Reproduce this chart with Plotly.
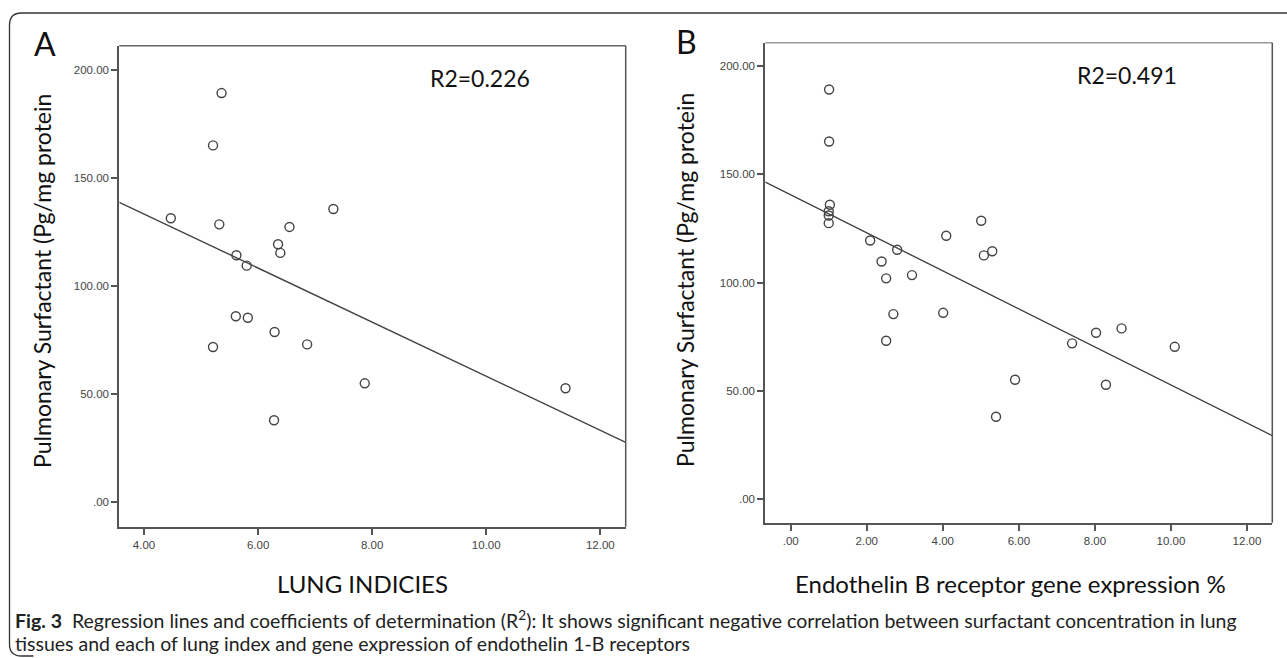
import numpy as np
import plotly.graph_objects as go

# ---------------- data ----------------
lung_index = [5.36, 5.21, 4.47, 5.32, 7.32, 6.55, 6.35, 6.39, 5.62, 5.80,
              5.61, 5.82, 6.29, 5.21, 6.86, 7.87, 6.28, 11.39]
surfactant_a = [189.2, 165.0, 131.3, 128.5, 135.6, 127.3, 119.3, 115.3, 114.2, 109.4,
                86.0, 85.3, 78.7, 71.8, 73.0, 55.0, 37.9, 52.7]

etb_expression = [1.01, 1.01, 1.03, 1.00, 1.00, 1.00, 2.09, 2.39, 2.51, 2.80,
                  3.19, 4.09, 5.01, 5.08, 5.30, 2.70, 4.01, 2.51, 5.90, 5.40,
                  7.40, 8.03, 8.70, 8.29, 10.10]
surfactant_b = [189.2, 165.2, 136.0, 133.0, 131.0, 127.5, 119.5, 109.8, 102.0, 115.2,
                103.5, 121.7, 128.6, 112.6, 114.5, 85.5, 86.1, 73.2, 55.2, 38.1,
                72.0, 76.9, 78.9, 52.9, 70.4]

# fitted regression lines (intercept, slope)
fit_a = (183.3, -12.50)
fit_b = (140.6, -8.78)

r2_labels = ["R2=0.226", "R2=0.491"]
panel_letters = ["A", "B"]

y_ticks = [0, 50, 100, 150, 200]
y_tick_text = [".00", "50.00", "100.00", "150.00", "200.00"]
xa_ticks = [4, 6, 8, 10, 12]
xa_tick_text = ["4.00", "6.00", "8.00", "10.00", "12.00"]
xb_ticks = [0, 2, 4, 6, 8, 10, 12]
xb_tick_text = [".00", "2.00", "4.00", "6.00", "8.00", "10.00", "12.00"]

y_title = "Pulmonary Surfactant (Pg/mg protein"
x_title_a = "LUNG INDICIES"
x_title_b = "Endothelin B receptor gene expression %"
caption_1 = ("<b>Fig. 3</b>  Regression lines and coefficients of determination (R<sup>2</sup>): "
             "It shows significant negative correlation between surfactant concentration in lung")
caption_2 = "tissues and each of lung index and gene expression of endothelin 1-B receptors"

# ---------------- layout constants ----------------
W, H = 1287, 658
xrange_a = [3.567, 12.445]
xrange_b = [-0.668, 12.665]
yrange_a = [-11.3, 211.1]
yrange_b = [-10.8, 210.8]

dark = "#444444"
font_main = "Lato"

fig = go.Figure()

marker = dict(symbol="circle-open", size=9, color=dark, line=dict(width=1.4, color=dark))

fig.add_trace(go.Scatter(x=lung_index, y=surfactant_a, mode="markers", marker=marker,
                         xaxis="x", yaxis="y", showlegend=False, hoverinfo="x+y"))
xl = np.array(xrange_a)
fig.add_trace(go.Scatter(x=xl, y=fit_a[0] + fit_a[1] * xl, mode="lines",
                         line=dict(color=dark, width=1.4), xaxis="x", yaxis="y",
                         showlegend=False, hoverinfo="skip"))

fig.add_trace(go.Scatter(x=etb_expression, y=surfactant_b, mode="markers", marker=marker,
                         xaxis="x2", yaxis="y2", showlegend=False, hoverinfo="x+y"))
xl2 = np.array(xrange_b)
fig.add_trace(go.Scatter(x=xl2, y=fit_b[0] + fit_b[1] * xl2, mode="lines",
                         line=dict(color=dark, width=1.4), xaxis="x2", yaxis="y2",
                         showlegend=False, hoverinfo="skip"))

tickfont = dict(family="Liberation Sans, Arial", size=11.5, color="#444444")
axis_common = dict(showgrid=False, zeroline=False, showline=True, linecolor="#555555",
                   linewidth=2, ticks="outside", ticklen=6, tickwidth=1.5,
                   tickcolor="#555555", tickfont=tickfont, fixedrange=True)

dom_xa = [119.3 / W, 625.7 / W]
dom_ya = [1 - 526.7 / H, 1 - 45.7 / H]
dom_xb = [765.3 / W, 1272.3 / W]
dom_yb = [1 - 522.7 / H, 1 - 42.7 / H]

fig.update_layout(
    width=W, height=H, autosize=False,
    margin=dict(l=0, r=0, t=0, b=0),
    paper_bgcolor="white", plot_bgcolor="white",
    xaxis=dict(domain=dom_xa, range=xrange_a, tickvals=xa_ticks, ticktext=xa_tick_text,
               anchor="y", **axis_common),
    yaxis=dict(domain=dom_ya, range=yrange_a, tickvals=y_ticks, ticktext=y_tick_text,
               anchor="x", **axis_common),
    xaxis2=dict(domain=dom_xb, range=xrange_b, tickvals=xb_ticks, ticktext=xb_tick_text,
                anchor="y2", **axis_common),
    yaxis2=dict(domain=dom_yb, range=yrange_b, tickvals=y_ticks, ticktext=y_tick_text,
                anchor="x2", **axis_common),
)

shapes = []
# top and right borders of both plot boxes
for xr, yr, topc in (("x domain", "y domain", "#666666"), ("x2 domain", "y2 domain", "#999999")):
    shapes.append(dict(type="line", xref=xr, yref=yr, x0=0, x1=1, y0=1, y1=1,
                       line=dict(color=topc, width=1.5)))
    shapes.append(dict(type="line", xref=xr, yref=yr, x0=1, x1=1, y0=0, y1=1,
                       line=dict(color="#555555", width=1.5)))

# outer rounded frame of the figure panel
fx = 9.5 / W
ft = 1 - 13 / H
fb = 1 - 656 / H
rx, ry = 12 / W, 12 / H
path = (f"M 1.0,{ft} L {fx + rx},{ft} Q {fx},{ft} {fx},{ft - ry} "
        f"L {fx},{fb + ry} Q {fx},{fb} {fx + rx},{fb} L {fx + 2 * rx},{fb}")
shapes.append(dict(type="path", xref="paper", yref="paper", path=path,
                   line=dict(color="#333333", width=1.3)))
fig.update_layout(shapes=shapes)

ann = []
# panel letters
ann.append(dict(text=panel_letters[0], x=45 / W, y=1 - 43 / H, xref="paper", yref="paper",
                showarrow=False, font=dict(family=font_main, size=32, color="#111111"),
                xanchor="center", yanchor="middle"))
ann.append(dict(text=panel_letters[1], x=686 / W, y=1 - 42 / H, xref="paper", yref="paper",
                showarrow=False, font=dict(family=font_main, size=32, color="#111111"),
                xanchor="center", yanchor="middle"))
# R2 labels
ann.append(dict(text=r2_labels[0], x=480.3 / W, y=1 - 77.7 / H, xref="paper", yref="paper",
                showarrow=False, font=dict(family=font_main, size=23, color="#111111"),
                xanchor="center", yanchor="middle"))
ann.append(dict(text=r2_labels[1], x=1126.7 / W, y=1 - 74.7 / H, xref="paper", yref="paper",
                showarrow=False, font=dict(family=font_main, size=23, color="#111111"),
                xanchor="center", yanchor="middle"))
# y titles
for xc, yc in ((42, 281), (685, 280)):
    ann.append(dict(text=y_title, x=xc / W, y=1 - yc / H, xref="paper", yref="paper",
                    showarrow=False, textangle=-90,
                    font=dict(family=font_main, size=23, color="#111111"),
                    xanchor="center", yanchor="middle"))
# x titles
ann.append(dict(text=x_title_a, x=362 / W, y=1 - 583 / H, xref="paper", yref="paper",
                showarrow=False, font=dict(family=font_main, size=24, color="#111111"),
                xanchor="center", yanchor="middle"))
ann.append(dict(text=x_title_b, x=1010 / W, y=1 - 583 / H, xref="paper", yref="paper",
                showarrow=False, font=dict(family=font_main, size=24, color="#111111"),
                xanchor="center", yanchor="middle"))
# caption
ann.append(dict(text=caption_1, x=13 / W, y=1 - 619 / H, xref="paper", yref="paper",
                showarrow=False, font=dict(family=font_main, size=19.5, color="#222222"),
                xanchor="left", yanchor="middle"))
ann.append(dict(text=caption_2, x=13 / W, y=1 - 643 / H, xref="paper", yref="paper",
                showarrow=False, font=dict(family=font_main, size=19.5, color="#222222"),
                xanchor="left", yanchor="middle"))
fig.update_layout(annotations=ann)

fig.write_html("out.html", config={"displayModeBar": False},
               post_script="document.body.style.margin='0';document.body.style.padding='0';")
